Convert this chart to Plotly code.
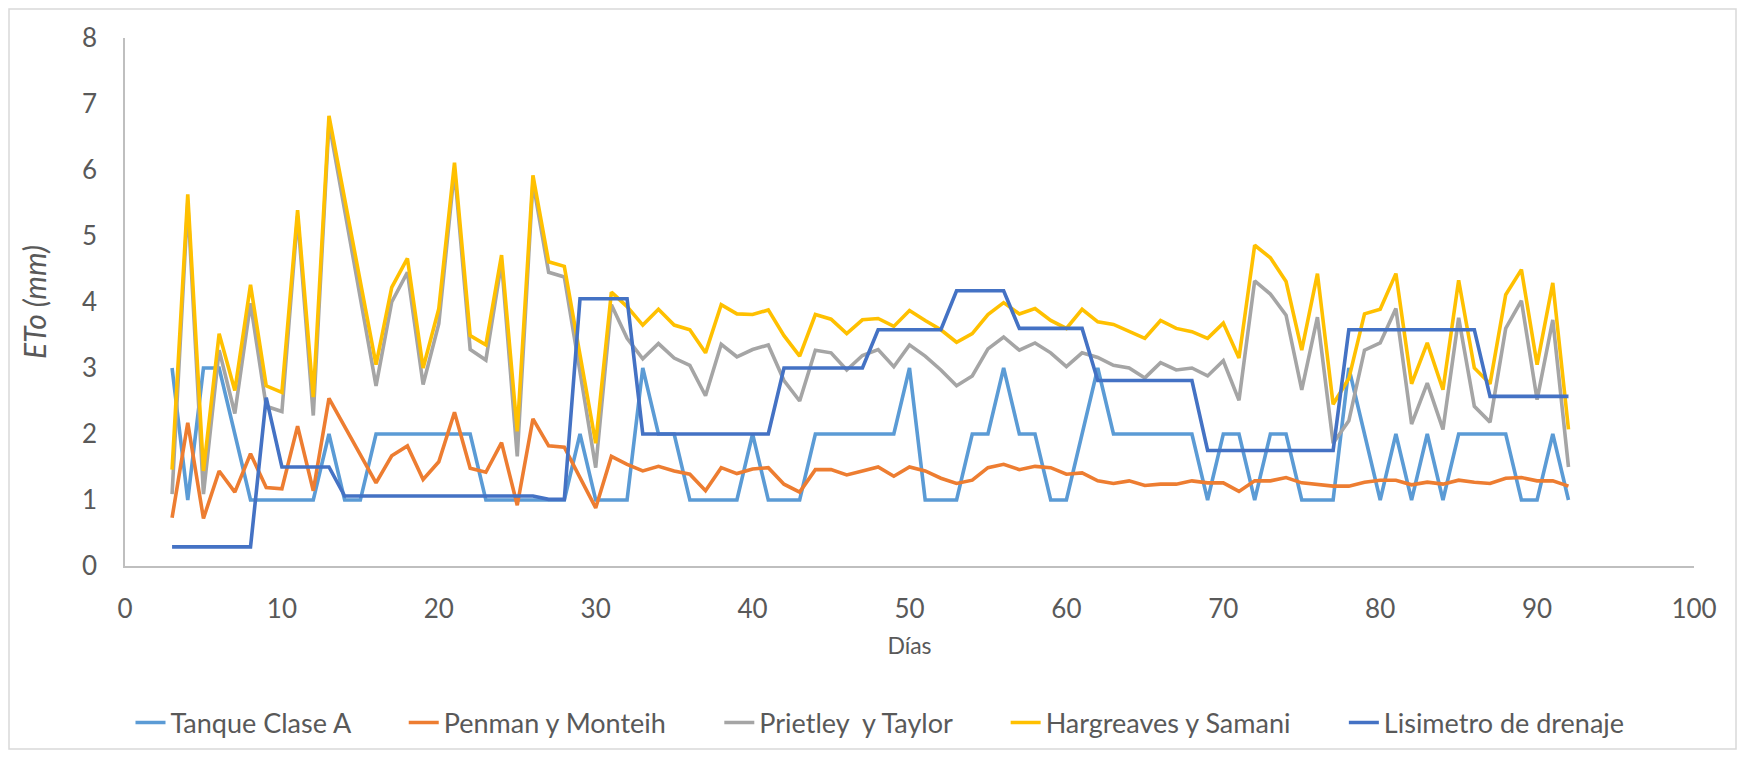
import plotly.graph_objects as go

dias = list(range(3, 93))

tanque_clase_a = [3, 1, 3, 3, 2, 1, 1, 1, 1, 1, 2, 1, 1, 2, 2, 2, 2, 2, 2, 2,
                  1, 1, 1, 1, 1, 1, 2, 1, 1, 1, 3, 2, 2, 1, 1, 1, 1, 2, 1, 1,
                  1, 2, 2, 2, 2, 2, 2, 3, 1, 1, 1, 2, 2, 3, 2, 2, 1, 1, 2, 3,
                  2, 2, 2, 2, 2, 2, 1, 2, 2, 1, 2, 2, 1, 1, 1, 3, 2, 1, 2, 1,
                  2, 1, 2, 2, 2, 2, 1, 1, 2, 1]

penman_monteih = [0.73, 2.17, 0.72, 1.44, 1.12, 1.70, 1.19, 1.17, 2.12, 1.14,
                  2.54, 2.11, 1.69, 1.26, 1.67, 1.82, 1.31, 1.58, 2.33, 1.48,
                  1.42, 1.87, 0.92, 2.23, 1.82, 1.80, 1.34, 0.88, 1.66, 1.54,
                  1.44, 1.51, 1.44, 1.39, 1.14, 1.49, 1.40, 1.47, 1.49, 1.24,
                  1.12, 1.46, 1.46, 1.38, 1.44, 1.50, 1.36, 1.50, 1.44, 1.33,
                  1.25, 1.30, 1.49, 1.54, 1.46, 1.51, 1.49, 1.39, 1.41, 1.29,
                  1.25, 1.29, 1.22, 1.24, 1.24, 1.29, 1.26, 1.26, 1.13, 1.29,
                  1.29, 1.34, 1.26, 1.24, 1.21, 1.21, 1.27, 1.30, 1.30, 1.23,
                  1.27, 1.24, 1.30, 1.27, 1.25, 1.33, 1.34, 1.29, 1.29, 1.21]

prietley_taylor = [1.09, 5.50, 1.09, 3.27, 2.31, 3.98, 2.42, 2.34, 5.30, 2.28,
                   6.72, 5.39, 4.06, 2.73, 4.00, 4.45, 2.75, 3.67, 6.00, 3.28,
                   3.12, 4.60, 1.66, 5.82, 4.45, 4.38, 2.94, 1.49, 3.96, 3.45,
                   3.14, 3.37, 3.15, 3.04, 2.58, 3.36, 3.17, 3.28, 3.35, 2.81,
                   2.50, 3.27, 3.23, 2.97, 3.19, 3.28, 3.02, 3.35, 3.18, 2.97,
                   2.73, 2.88, 3.29, 3.47, 3.27, 3.38, 3.23, 3.02, 3.23, 3.16,
                   3.04, 3.00, 2.85, 3.08, 2.97, 3.00, 2.88, 3.11, 2.51, 4.32,
                   4.12, 3.80, 2.67, 3.77, 1.86, 2.20, 3.27, 3.38, 3.90, 2.15,
                   2.77, 2.07, 3.76, 2.42, 2.18, 3.60, 4.02, 2.52, 3.73, 1.50]

hargreaves_samani = [1.46, 5.63, 1.44, 3.52, 2.66, 4.26, 2.73, 2.63, 5.39, 2.56,
                     6.82, 5.56, 4.31, 3.05, 4.22, 4.66, 3.00, 3.90, 6.11, 3.49,
                     3.35, 4.71, 2.04, 5.92, 4.61, 4.54, 3.20, 1.86, 4.15, 3.93,
                     3.65, 3.89, 3.65, 3.58, 3.23, 3.96, 3.82, 3.81, 3.88, 3.49,
                     3.18, 3.81, 3.74, 3.52, 3.73, 3.75, 3.63, 3.87, 3.72, 3.58,
                     3.39, 3.52, 3.81, 3.99, 3.82, 3.90, 3.72, 3.60, 3.89, 3.70,
                     3.66, 3.55, 3.45, 3.72, 3.60, 3.55, 3.45, 3.68, 3.15, 4.86,
                     4.67, 4.31, 3.27, 4.43, 2.45, 2.84, 3.82, 3.89, 4.43, 2.76,
                     3.38, 2.67, 4.33, 3.00, 2.76, 4.11, 4.49, 3.05, 4.29, 2.07]

lisimetro_drenaje = [0.29, 0.29, 0.29, 0.29, 0.29, 0.29, 2.55, 1.50, 1.50, 1.50,
                     1.50, 1.06, 1.06, 1.06, 1.06, 1.06, 1.06, 1.06, 1.06, 1.06,
                     1.06, 1.06, 1.06, 1.06, 1.01, 1.01, 4.05, 4.05, 4.05, 4.05,
                     2.00, 2.00, 2.00, 2.00, 2.00, 2.00, 2.00, 2.00, 2.00, 3.00,
                     3.00, 3.00, 3.00, 3.00, 3.00, 3.58, 3.58, 3.58, 3.58, 3.58,
                     4.17, 4.17, 4.17, 4.17, 3.60, 3.60, 3.60, 3.60, 3.60, 2.81,
                     2.81, 2.81, 2.81, 2.81, 2.81, 2.81, 1.75, 1.75, 1.75, 1.75,
                     1.75, 1.75, 1.75, 1.75, 1.75, 3.58, 3.58, 3.58, 3.58, 3.58,
                     3.58, 3.58, 3.58, 3.58, 2.57, 2.57, 2.57, 2.57, 2.57, 2.57]

series_names = ["Tanque Clase A", "Penman y Monteih", "Prietley  y Taylor",
                "Hargreaves y Samani", "Lisimetro de drenaje"]
series_values = [tanque_clase_a, penman_monteih, prietley_taylor,
                 hargreaves_samani, lisimetro_drenaje]
series_colors = ["#5B9BD5", "#ED7D31", "#A5A5A5", "#FFC000", "#4472C4"]

FONT = "Lato, Carlito, Calibri, sans-serif"
TXT = "#595959"
PAD = "\u00a0" * 7

fig = go.Figure()
for i, (name, vals, color) in enumerate(zip(series_names, series_values, series_colors)):
    label = name.replace("  ", "\u00a0 ")
    if i < len(series_names) - 1:
        label = label + PAD
    fig.add_trace(go.Scatter(x=dias, y=vals, mode="lines", name=label,
                             line=dict(color=color, width=3.6)))

# the page body adds an 8px margin around the figure
W, H = 1729, 742
L, R, T, B = 117, 43, 30, 184
pw, ph = W - L - R, H - T - B

fig.update_layout(
    width=W, height=H,
    margin=dict(l=L, r=R, t=T, b=B, autoexpand=False),
    paper_bgcolor="white", plot_bgcolor="white",
    font=dict(family=FONT, size=26, color=TXT),
    showlegend=True,
    legend=dict(orientation="h", x=(872 - L) / pw, xanchor="center",
                y=(H - B - 715) / ph, yanchor="middle",
                font=dict(family=FONT, size=27, color=TXT),
                traceorder="normal"),
    xaxis=dict(range=[0, 100], dtick=10, tick0=0, showgrid=False, zeroline=False,
               showline=True, linecolor="#BFBFBF", linewidth=1.5, automargin=False,
               ticks="outside", ticklen=19, tickcolor="rgba(0,0,0,0)",
               tickfont=dict(family=FONT, size=26, color=TXT),
               title=dict(text="Días", font=dict(family=FONT, size=23, color=TXT), standoff=15)),
    yaxis=dict(range=[0, 8], dtick=1, tick0=0, showgrid=False, zeroline=False,
               showline=True, linecolor="#BFBFBF", linewidth=1.5, automargin=False,
               ticks="outside", ticklen=21, tickcolor="rgba(0,0,0,0)",
               tickfont=dict(family=FONT, size=26, color=TXT),
               title=dict(text="<i>ETo (mm)</i>", font=dict(family=FONT, size=30, color=TXT), standoff=26)),
    shapes=[dict(type="rect", xref="paper", yref="paper",
                 x0=(1 - L) / pw, x1=(W - 1 - L) / pw,
                 y0=(H - B - (H - 1)) / ph, y1=(H - B - 1) / ph,
                 line=dict(color="#D9D9D9", width=1.5), fillcolor="rgba(0,0,0,0)", layer="below")],
)

fig.write_html("out.html")
